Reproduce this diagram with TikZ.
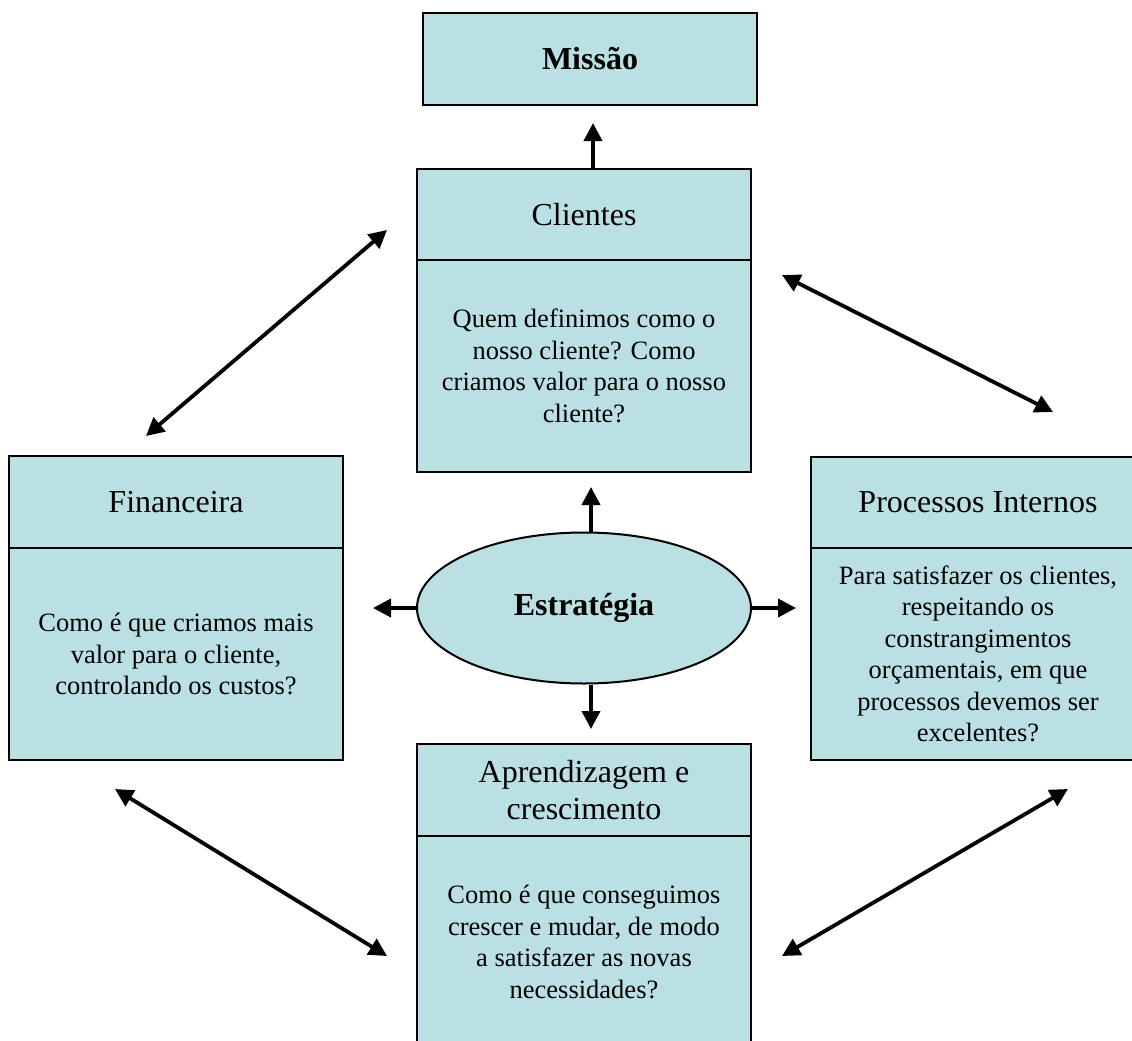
\documentclass[tikz,border=0pt]{standalone}
\usepackage{fontspec}
\setmainfont{Liberation Serif}
\usetikzlibrary{arrows.meta,shapes.geometric}
\definecolor{boxfill}{RGB}{187,224,227}
\begin{document}
\begin{tikzpicture}[x=1pt,y=-1pt,
  panel/.style={draw=black, fill=boxfill, line width=2pt, minimum width=334pt,
    inner sep=0pt, align=center},
  headbox/.style={panel, minimum height=92pt, font=\fontsize{32}{37}\selectfont},
  bodybox/.style={panel, minimum height=212pt, font=\fontsize{26.5}{31.5}\selectfont},
  link/.style={line width=3.8pt, -{Triangle[length=18pt,width=18pt]}},
  twoway/.style={line width=3.8pt,
    {Triangle[length=18pt,width=18pt]}-{Triangle[length=18pt,width=18pt]}}]

\useasboundingbox (0,0) rectangle (1132,1041);
\clip (0,0) rectangle (1132,1041);

% mission
\node[headbox, font=\fontsize{32}{37}\selectfont\bfseries] (mis) at (590,59) {Missão};

% customer perspective
\node[headbox] (clih) at (584,214.5) {Clientes};
\node[bodybox] (clib) at (584,366) {Quem definimos como o\\nosso cliente? Como\\criamos valor para o nosso\\cliente?};

% financial perspective
\node[headbox] (finh) at (176,502) {Financeira};
\node[bodybox] (finb) at (176,654) {Como é que criamos mais\\valor para o cliente,\\controlando os custos?};

% internal processes
\node[headbox] (proh) at (978,502.5) {Processos Internos};
\node[bodybox] (prob) at (978,654) {Para satisfazer os clientes,\\respeitando os\\constrangimentos\\orçamentais, em que\\processos devemos ser\\excelentes?};

% learning and growth
\node[headbox] (aprh) at (584,790) {Aprendizagem e\\crescimento};
\node[bodybox] (aprb) at (584,942) {Como é que conseguimos\\crescer e mudar, de modo\\a satisfazer as novas\\necessidades?};

% strategy at the centre
\node[ellipse, draw=black, fill=boxfill, line width=2pt, minimum width=334pt,
  minimum height=151pt, inner sep=0pt, font=\fontsize{32}{37}\selectfont\bfseries]
  (est) at (584,608) {Estratégia};

% arrow tips
\coordinate (tmis) at (593,123);
\coordinate (tup) at (591,487);
\coordinate (tdown) at (591,729);
\coordinate (tleft) at (373,608);
\coordinate (tright) at (796,608);
\coordinate (a1) at (146,436);
\coordinate (a2) at (387,230);
\coordinate (b1) at (782,275);
\coordinate (b2) at (1053,412);
\coordinate (c1) at (115,789);
\coordinate (c2) at (387,956);
\coordinate (d1) at (782,956);
\coordinate (d2) at (1068,789);

% single arrows
\draw[link] (clih.north -| tmis) -- (tmis);
\draw[link] (est.north -| tup) -- (tup);
\draw[link] (est.south -| tdown) -- (tdown);
\draw[link] (est.west) -- (tleft);
\draw[link] (est.east) -- (tright);

% two-way links between perspectives
\draw[twoway] (a1) -- (a2);
\draw[twoway] (b1) -- (b2);
\draw[twoway] (c1) -- (c2);
\draw[twoway] (d1) -- (d2);
\end{tikzpicture}
\end{document}
